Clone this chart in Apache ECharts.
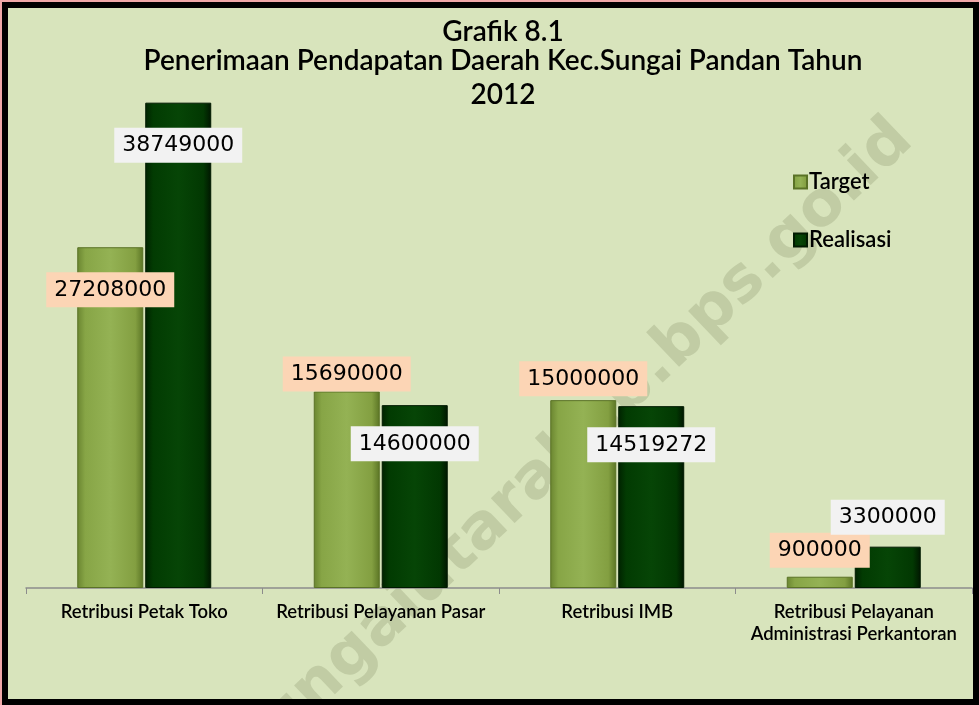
<!DOCTYPE html>
<html>
<head>
<meta charset="utf-8">
<script src="https://cdn.jsdelivr.net/npm/echarts@6/dist/echarts.min.js"></script>
<style>
  html, body { margin: 0; padding: 0; background: #d8e4bc; }
  .wrap { position: relative; width: 979px; height: 705px; }
  #chart { width: 979px; height: 705px; }
  .frame {
    position: absolute; left: 0; top: 0; width: 979px; height: 705px;
    box-sizing: border-box; pointer-events: none;
    border-top: 2px solid #f0a8a8; border-left: 2px solid #f0a8a8;
  }
  .frame .inner {
    width: 100%; height: 100%; box-sizing: border-box;
    border: 6px solid #000;
  }
</style>
</head>
<body>
<div class="wrap">
  <div id="chart"></div>
  <div class="frame"><div class="inner"></div></div>
</div>
<script>
// data
const categories = [
  'Retribusi Petak Toko',
  'Retribusi Pelayanan Pasar',
  'Retribusi IMB',
  'Retribusi Pelayanan\nAdministrasi Perkantoran'
]
const targetValues = [27208000, 15690000, 15000000, 900000]
const realisasiValues = [38749000, 14600000, 14519272, 3300000]
const titleLines = ['Grafik 8.1', 'Penerimaan Pendapatan Daerah Kec.Sungai Pandan Tahun', '2012']

// where each value label sits (per category)
const targetLabelPos = ['insideTop', 'top', 'top', 'top']
const targetLabelDist = [25, 0, 4, 9]
const realLabelPos = ['insideTop', 'insideTop', 'insideTop', 'top']
const realLabelDist = [25, 21, 21, 12]
const titleTops = [18, 47, 81]

const chart = echarts.init(document.getElementById('chart'))

const font = "Lato, 'Liberation Sans', sans-serif"
const numFont = "'DejaVu Sans', sans-serif"

const targetFill = new echarts.graphic.LinearGradient(0, 0, 1, 0, [
  { offset: 0, color: '#6a8530' },
  { offset: 0.12, color: '#87a546' },
  { offset: 0.5, color: '#94b254' },
  { offset: 0.88, color: '#839f41' },
  { offset: 1, color: '#5b7525' }
])
const realFill = new echarts.graphic.LinearGradient(0, 0, 1, 0, [
  { offset: 0, color: '#002200' },
  { offset: 0.12, color: '#023b02' },
  { offset: 0.5, color: '#064506' },
  { offset: 0.88, color: '#023802' },
  { offset: 1, color: '#001600' }
])

const baseLabel = {
  show: true,
  color: '#000',
  fontFamily: numFont,
  fontSize: 22,
  padding: [7, 8, 6, 8]
}

const makeData = (values, pos, dist, bg) => values.map((v, i) => ({
  value: v,
  label: Object.assign({}, baseLabel, {
    position: pos[i],
    distance: dist[i],
    backgroundColor: bg
  })
}))

const option = {
  backgroundColor: '#d8e4bc',
  animation: false,
  title: titleLines.map((t, i) => ({
    text: t,
    left: 503,
    top: titleTops[i],
    padding: 0,
    textAlign: 'center',
    textStyle: {
      fontFamily: font,
      fontSize: 28,
      fontWeight: 600,
      color: '#000',
      lineHeight: 28
    }
  })),
  legend: {
    orient: 'vertical',
    left: 788,
    top: 166,
    itemWidth: 13,
    itemHeight: 13,
    itemGap: 36,
    icon: 'rect',
    data: ['Target', 'Realisasi'],
    textStyle: {
      fontFamily: font,
      fontSize: 22,
      fontWeight: 600,
      color: '#000',
      padding: [0, 0, 0, -3]
    }
  },
  grid: {
    left: 26,
    right: 7,
    top: 87,
    bottom: 117,
    containLabel: false
  },
  xAxis: {
    type: 'category',
    data: categories,
    axisLine: { lineStyle: { color: '#8c8c8c', width: 1.5 } },
    axisTick: { show: true, length: 6, lineStyle: { color: '#8c8c8c' } },
    axisLabel: {
      color: '#000',
      fontFamily: font,
      fontSize: 18.5,
      fontWeight: 600,
      margin: 13,
      lineHeight: 22,
      interval: 0
    }
  },
  yAxis: {
    type: 'value',
    min: 0,
    max: 40000000,
    show: false,
    splitLine: { show: false }
  },
  graphic: [{
    type: 'text',
    x: 882,
    y: 108,
    rotation: 0.76,
    z: 0,
    style: {
      text: 'hulusungaiutarakab.bps.go.id',
      textAlign: 'right',
      textVerticalAlign: 'top',
      fontFamily: "'DejaVu Sans', sans-serif",
      fontWeight: 'bold',
      fontSize: 63,
      fill: 'rgba(140, 150, 110, 0.3)'
    }
  }],
  series: [
    {
      name: 'Target',
      type: 'bar',
      barWidth: 66,
      barGap: '3%',
      z: 2,
      itemStyle: { color: targetFill, borderColor: '#5a7226', borderWidth: 1 },
      data: makeData(targetValues, targetLabelPos, targetLabelDist, '#fcd5b5')
    },
    {
      name: 'Realisasi',
      type: 'bar',
      barWidth: 66,
      z: 2,
      itemStyle: { color: realFill, borderColor: '#001a00', borderWidth: 1 },
      data: makeData(realisasiValues, realLabelPos, realLabelDist, '#f2f2f2')
    }
  ]
}

chart.setOption(option)
</script>
</body>
</html>
